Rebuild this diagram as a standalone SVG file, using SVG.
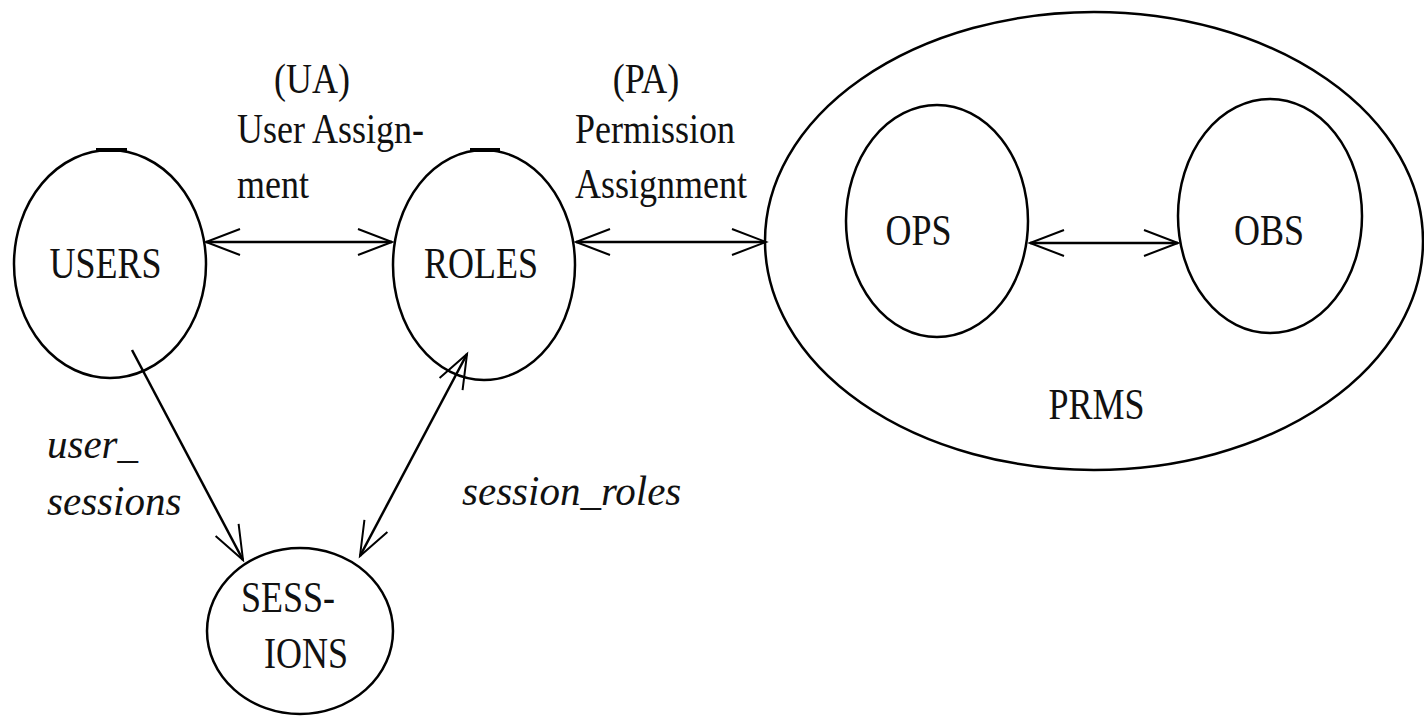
<svg xmlns="http://www.w3.org/2000/svg" width="1424" height="717" viewBox="0 0 1424 717">
<defs>
<style>
.n{fill:none;stroke:#000;stroke-width:2.5}
.m{fill:none;stroke:#000;stroke-width:2}
.k{stroke:#000;stroke-width:4}
.t{font-family:"Liberation Serif","Times New Roman",serif;font-size:36px;fill:#111}
.i{font-family:"Liberation Serif","Times New Roman",serif;font-size:41px;font-style:italic;fill:#111}
</style>
<marker id="a" viewBox="-36 -16 40 32" refX="0" refY="0" markerWidth="40" markerHeight="32" markerUnits="userSpaceOnUse" orient="auto-start-reverse">
<path class="m" d="M-34,-13 L0,0 L-34,13"/>
</marker>
</defs>
<rect width="1424" height="717" fill="#fff"/>
<g id="users">
<ellipse class="n" cx="110" cy="264" rx="96" ry="114"/>
<line class="k" x1="96" y1="150" x2="127" y2="150"/>
<text class="t" transform="translate(105.5 278) scale(1 1.22)" text-anchor="middle">USERS</text>
</g>
<g id="roles">
<ellipse class="n" cx="484" cy="265" rx="91" ry="115"/>
<line class="k" x1="470" y1="150" x2="500" y2="150"/>
<text class="t" transform="translate(481 278) scale(1 1.22)" text-anchor="middle">ROLES</text>
</g>
<g id="sessions">
<ellipse class="n" cx="300" cy="631" rx="93" ry="83"/>
<text class="t" transform="translate(288 612) scale(1 1.22)" text-anchor="middle">SESS-</text>
<text class="t" transform="translate(306 668) scale(1 1.22)" text-anchor="middle">IONS</text>
</g>
<g id="prms">
<ellipse class="n" cx="1094" cy="241" rx="329" ry="229"/>
<text class="t" transform="translate(1096.5 419) scale(1 1.22)" text-anchor="middle">PRMS</text>
</g>
<g id="ops">
<ellipse class="n" cx="937" cy="221" rx="91" ry="116"/>
<text class="t" transform="translate(918.5 245) scale(1 1.22)" text-anchor="middle">OPS</text>
</g>
<g id="obs">
<ellipse class="n" cx="1270" cy="216" rx="92" ry="117"/>
<text class="t" transform="translate(1269 245) scale(1 1.22)" text-anchor="middle">OBS</text>
</g>
<g id="connectors" class="n">
<line x1="206" y1="242" x2="392" y2="242" marker-start="url(#a)" marker-end="url(#a)"/>
<line x1="576" y1="242" x2="766" y2="242" marker-start="url(#a)" marker-end="url(#a)"/>
<line x1="1030" y1="243" x2="1178" y2="243" marker-start="url(#a)" marker-end="url(#a)"/>
<line x1="132" y1="350" x2="243" y2="560" marker-end="url(#a)"/>
<line x1="360" y1="556" x2="467" y2="354" marker-start="url(#a)" marker-end="url(#a)"/>
</g>
<g id="labels">
<text class="t" transform="translate(312 93) scale(1 1.2)" text-anchor="middle">(UA)</text>
<text class="t" transform="translate(237 143) scale(1 1.2)">User Assign-</text>
<text class="t" transform="translate(237 198) scale(1 1.2)">ment</text>
<text class="t" transform="translate(646 93) scale(1 1.2)" text-anchor="middle">(PA)</text>
<text class="t" transform="translate(575 143) scale(1 1.2)">Permission</text>
<text class="t" transform="translate(575 198) scale(1 1.2)">Assignment</text>
<text class="i" transform="translate(47 458) scale(1 1.05)">user_</text>
<text class="i" transform="translate(47 515) scale(1 1.05)">sessions</text>
<text class="i" transform="translate(462 505) scale(1 1.05)">session_roles</text>
</g>
</svg>
